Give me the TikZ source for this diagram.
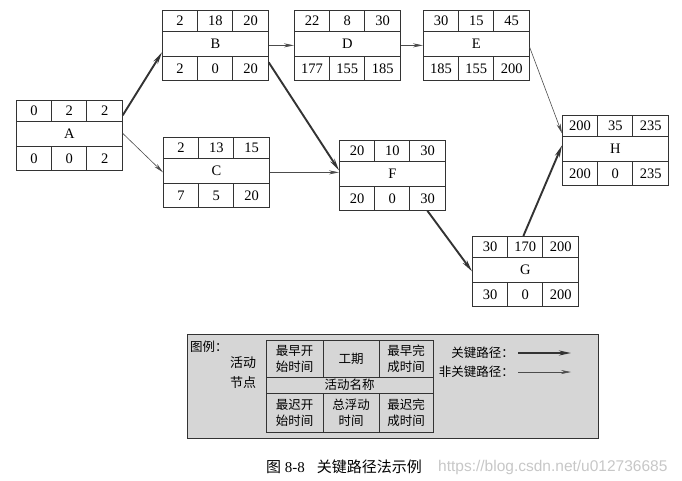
\documentclass[tikz,border=0pt]{standalone}
\usepackage{fontspec}
\setmainfont{Liberation Serif}
\newfontfamily\cjk{Noto Sans CJK SC}
\newfontfamily\wmfont{Liberation Sans}
\usetikzlibrary{arrows.meta}

\tikzset{
  act/.style={draw=black!80, line width=0.7pt, minimum width=106pt, minimum height=70pt, inner sep=0pt, anchor=north west},
  boxline/.style={draw=black!80, line width=0.7pt},
  num/.style={font=\fontsize{14.5}{14.5}\selectfont, inner sep=0pt},
  crit/.style={line width=1.9pt, black!80, -{Stealth[length=12pt,width=5pt]}},
  noncrit/.style={line width=0.6pt, black!70, -{Stealth[length=10pt,width=4pt]}},
  legtext/.style={font=\cjk\fontsize{12.5}{16}\selectfont, align=center, inner sep=0pt},
}

\begin{document}
\begin{tikzpicture}[x=1pt,y=-1pt]
\useasboundingbox (0,0) rectangle (682,480);

% activity nodes: name/x/y/ES/D/EF/LS/TF/LF
\foreach \nm/\px/\py/\es/\du/\ef/\ls/\tf/\lf in {A/16/100/0/2/2/0/0/2, B/162/10/2/18/20/2/0/20, C/163/137/2/13/15/7/5/20, D/294/10/22/8/30/177/155/185, E/423/10/30/15/45/185/155/200, F/339/140/20/10/30/20/0/30, G/472/236/30/170/200/30/0/200, H/562/115/200/35/235/200/0/235}{
  \node[act] (\nm) at (\px,\py) {};
  \draw[boxline] ([yshift=-21pt]\nm.north west) -- ([yshift=-21pt]\nm.north east)
    ([yshift=24pt]\nm.south west) -- ([yshift=24pt]\nm.south east)
    ([xshift=35.33pt]\nm.north west) -- ++(0,21) ([xshift=70.67pt]\nm.north west) -- ++(0,21)
    ([xshift=35.33pt]\nm.south west) -- ++(0,-24) ([xshift=70.67pt]\nm.south west) -- ++(0,-24);
  \node[num] (\nm-es) at ([xshift=-35.33pt,yshift=-10.5pt]\nm.north) {\es};
  \node[num] (\nm-du) at ([yshift=-10.5pt]\nm.north) {\du};
  \node[num] (\nm-ef) at ([xshift=35.33pt,yshift=-10.5pt]\nm.north) {\ef};
  \node[num] (\nm-nm) at ([yshift=1.5pt]\nm.center) {\nm};
  \node[num] (\nm-ls) at ([xshift=-35.33pt,yshift=12pt]\nm.south) {\ls};
  \node[num] (\nm-tf) at ([yshift=12pt]\nm.south) {\tf};
  \node[num] (\nm-lf) at ([xshift=35.33pt,yshift=12pt]\nm.south) {\lf};
}

% connectors
\draw[crit] ([yshift=20pt]A.east) -- ([yshift=-7pt]B.west);
\draw[noncrit] ([yshift=2pt]A.east) -- (C.west);
\draw[noncrit] (B.east) -- (D.west);
\draw[noncrit] (D.east) -- (E.west);
\draw[crit] ([yshift=-17pt]B.east) -- ([yshift=5pt]F.west);
\draw[noncrit] (C.east) -- (C.east -| F.west);
\draw[noncrit] ([yshift=-2pt]E.east) -- ([yshift=17pt]H.west);
\draw[crit] ([xshift=35pt]F.south) -- (G.west);
\draw[crit] ([xshift=-2pt]G.north) -- ([yshift=5pt]H.west);

% legend
\draw[fill=black!16, draw=black!80, line width=0.7pt] (187,334) rectangle (598,438);
\draw[boxline] (266,340) rectangle (433,432)
  (266,377) -- (433,377) (266,393) -- (433,393)
  (323,340) -- (323,377) (379,340) -- (379,377)
  (323,393) -- (323,432) (379,393) -- (379,432);
\node[legtext, anchor=west] (legtitle) at (190,347) {图例：};
\node[legtext, font=\cjk\fontsize{13}{20}\selectfont] (legnode) at (243,373) {活动\\节点};
\node[legtext] (leges) at (294.5,358.5) {最早开\\始时间};
\node[legtext] (legdu) at (351,358.5) {工期};
\node[legtext] (legef) at (406,358.5) {最早完\\成时间};
\node[legtext] (legnm) at (349.5,385) {活动名称};
\node[legtext] (legls) at (294.5,412.5) {最迟开\\始时间};
\node[legtext] (legtf) at (351,412.5) {总浮动\\时间};
\node[legtext] (leglf) at (406,412.5) {最迟完\\成时间};
\node[legtext, anchor=east] (legcrit) at (514,353) {关键路径：};
\node[legtext, anchor=east] (legnon) at (514,372) {非关键路径：};
\coordinate (critend) at (571,353);
\coordinate (nonend) at (571,372);
\draw[crit] ([xshift=4pt]legcrit.east) -- (critend);
\draw[noncrit] ([xshift=4pt]legnon.east) -- (nonend);

% caption
\node[anchor=west, inner sep=0pt, font=\fontsize{15}{15}\selectfont] (caption) at (266,467) {{\cjk 图}\ 8-8\hspace{12pt}{\cjk 关键路径法示例}};
\node[anchor=west, inner sep=0pt, text=black!22, font=\wmfont\fontsize{15.5}{15.5}\selectfont] (mark) at (438,467) {https://blog.csdn.net/u012736685};
\end{tikzpicture}
\end{document}
